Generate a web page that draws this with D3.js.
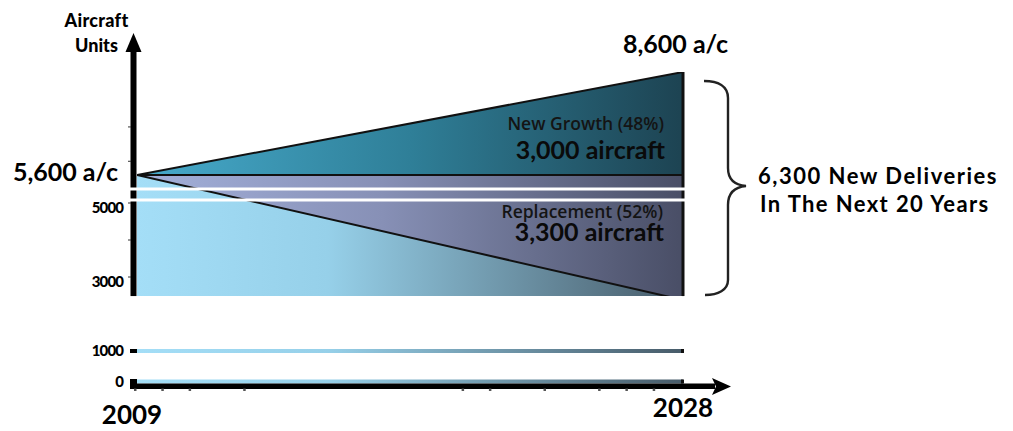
<!DOCTYPE html>
<html>
<head>
<meta charset="utf-8">
<script src="https://cdn.jsdelivr.net/npm/d3@7"></script>
<style>
  html, body { margin: 0; padding: 0; background: #fff; }
  svg { display: block; font-family: Lato, "Open Sans", sans-serif; }
</style>
</head>
<body>
<svg id="chart" width="1013" height="431"></svg>
<script>
// Fleet outlook, 2009 -> 2028
const years = [2009, 2028];
const totalFleet = [5600, 8600];      // fleet size incl. new growth
const retainedFleet = [5600, 2300];   // today's aircraft still flying
const baseFleet = 5600;
const segmentNames = ["New Growth (48%)", "Replacement (52%)"];
const segmentUnits = ["3,000 aircraft", "3,300 aircraft"];
const endLabels = ["5,600 a/c", "8,600 a/c"];
const yTickValues = [0, 1000, 3000, 5000];
const yTickLabels = ["0", "1000", "3000", "5000"];
const yMinorTicks = [3000, 4000, 5000, 6000, 7000];
const stripValues = [1000, 0];
const xDotSteps = [0, 1, 2, 4, 12, 13, 15, 17, 18, 19];
const braceText = ["6,300 New Deliveries", "In The Next 20 Years"];
const axisTitle = ["Aircraft", "Units"];

const svg = d3.select("#chart");
const defs = svg.append("defs");

// broken vertical scale: upper panel plus two thin slices near the floor
const x = d3.scaleLinear().domain(years).range([137, 683]);
const y = d3.scaleLinear()
  .domain([0, 1000, 2300, 3000, 5000, 5600, 8600])
  .range([381.5, 351, 300, 277, 203, 175, 72]);
const upperFloor = 2420;               // where the upper panel is cut off
const dotX = d3.scaleLinear().domain([0, 20]).range([135, 681]);

function grad(id, stops) {
  const g = defs.append("linearGradient").attr("id", id)
    .attr("gradientUnits", "userSpaceOnUse")
    .attr("x1", x(years[0])).attr("x2", x(years[1])).attr("y1", 0).attr("y2", 0);
  stops.forEach(([o, c]) => g.append("stop").attr("offset", o).attr("stop-color", c));
}
grad("gExisting", [[0, "#a4def7"], [0.35, "#96d0e9"], [1, "#475b69"]]);
grad("gReplace", [[0, "#a3b0da"], [0.45, "#8790b6"], [1, "#494e66"]]);
grad("gGrowth", [[0, "#47abcc"], [0.5, "#2f7f98"], [1, "#1d4352"]]);

defs.append("clipPath").attr("id", "panel").append("rect")
  .attr("x", x(years[0])).attr("y", y(totalFleet[1]))
  .attr("width", x(years[1]) - x(years[0]))
  .attr("height", y(upperFloor) - y(totalFleet[1]));

const rows = years.map((yr, i) => ({ yr, total: totalFleet[i], kept: retainedFleet[i] }));

const panel = svg.append("g").attr("clip-path", "url(#panel)");

panel.append("path").datum(rows)
  .attr("fill", "url(#gExisting)")
  .attr("d", d3.area().x(d => x(d.yr)).y0(y(d3.min(retainedFleet))).y1(d => y(d.kept)));
panel.append("path").datum(rows)
  .attr("fill", "url(#gReplace)")
  .attr("d", d3.area().x(d => x(d.yr)).y0(d => y(d.kept)).y1(y(baseFleet)));
panel.append("path").datum(rows)
  .attr("fill", "url(#gGrowth)")
  .attr("d", d3.area().x(d => x(d.yr)).y0(y(baseFleet)).y1(d => y(d.total)));

// outlines
const line = d3.line().x(d => x(d[0])).y(d => y(d[1]));
panel.append("path").datum(rows.map(d => [d.yr, d.kept]))
  .attr("d", line).attr("fill", "none").attr("stroke", "#111").attr("stroke-width", 2);
panel.append("path").datum(rows.map(d => [d.yr, baseFleet]))
  .attr("d", line).attr("fill", "none").attr("stroke", "#111").attr("stroke-width", 2);
panel.append("path").datum(rows.map(d => [d.yr, d.total]))
  .attr("d", line).attr("fill", "none").attr("stroke", "#111").attr("stroke-width", 2);
svg.append("line")
  .attr("x1", x(years[1])).attr("x2", x(years[1]))
  .attr("y1", y(totalFleet[1])).attr("y2", y(upperFloor))
  .attr("stroke", "#111").attr("stroke-width", 3);

// thin slices of the fleet near the floor
stripValues.forEach(v => {
  svg.append("rect").attr("x", x(years[0])).attr("width", x(years[1]) - x(years[0]))
    .attr("y", y(v) - 2).attr("height", 4).attr("fill", "url(#gExisting)");
  svg.append("rect").attr("x", x(years[1]) - 2).attr("width", 3)
    .attr("y", y(v) - 2).attr("height", 4).attr("fill", "#111");
  svg.append("rect").attr("x", 130).attr("width", 7)
    .attr("y", y(v) - 2).attr("height", 4).attr("fill", "#000");
});

// vertical axis with arrow
svg.append("rect").attr("x", 130.5).attr("width", 6)
  .attr("y", 48).attr("height", y(upperFloor) - 48).attr("fill", "#000");
svg.append("path").attr("d", "M133.5,33 L125.5,52 L141.5,52 Z").attr("fill", "#000");
svg.selectAll(".minor").data(yMinorTicks).join("line")
  .attr("x1", 128).attr("x2", 131).attr("y1", d => y(d)).attr("y2", d => y(d))
  .attr("stroke", "#333").attr("stroke-width", 1);

// horizontal axis with arrow
svg.append("rect").attr("x", 130).attr("y", 379).attr("width", 7).attr("height", 10).attr("fill", "#000");
svg.append("rect").attr("x", 130).attr("y", 383.5).attr("width", 585).attr("height", 5.5).attr("fill", "#000");
svg.append("path").attr("d", "M731,386.5 L712,378 L716,386.5 L712,395 Z").attr("fill", "#000");
svg.selectAll(".dot").data(xDotSteps).join("rect")
  .attr("x", d => dotX(d) - 1).attr("y", 388.5).attr("width", 2.5).attr("height", 2.5)
  .attr("fill", "#555");

// break marks across the upper panel
[189, 200].forEach(py => {
  svg.append("line").attr("x1", 129).attr("x2", 688).attr("y1", py).attr("y2", py)
    .attr("stroke", "#fff").attr("stroke-width", 3);
});

// tick labels
svg.selectAll(".tick").data(yTickValues).join("text")
  .attr("x", 123).attr("y", d => y(d) + (d >= 3000 ? 4.5 : 0))
  .attr("dy", "0.35em").attr("text-anchor", "end")
  .attr("font-size", 15).attr("font-weight", 900).attr("letter-spacing", -0.9)
  .text((d, i) => yTickLabels[i]);

// axis title
svg.append("text").attr("x", 96.5).attr("y", 27).attr("text-anchor", "middle")
  .attr("font-size", 18).attr("font-weight", 900).attr("letter-spacing", 0.3).text(axisTitle[0]);
svg.append("text").attr("x", 96.5).attr("y", 52).attr("text-anchor", "middle")
  .attr("font-size", 18).attr("font-weight", 900).text(axisTitle[1]);

// fleet sizes at both ends
svg.append("text").attr("x", 118).attr("y", 181).attr("text-anchor", "end")
  .attr("font-size", 25).attr("font-weight", 700).text(endLabels[0]);
svg.append("text").attr("x", 623).attr("y", 53).attr("text-anchor", "start")
  .attr("font-size", 25).attr("font-weight", 700).text(endLabels[1]);

// segment labels
const nameFont = { family: "'Open Sans', Lato, sans-serif", size: 17.5, weight: 600 };
svg.append("text").attr("x", 664).attr("y", 130).attr("text-anchor", "end")
  .attr("font-family", nameFont.family).attr("font-size", nameFont.size)
  .attr("font-weight", nameFont.weight).attr("fill", "#141414").text(segmentNames[0]);
svg.append("text").attr("x", 665).attr("y", 159).attr("text-anchor", "end")
  .attr("font-size", 25).attr("font-weight", 700).attr("fill", "#0a0a0a").text(segmentUnits[0]);
svg.append("text").attr("x", 663).attr("y", 218).attr("text-anchor", "end")
  .attr("font-family", nameFont.family).attr("font-size", nameFont.size)
  .attr("font-weight", nameFont.weight).attr("fill", "#141414").text(segmentNames[1]);
svg.append("text").attr("x", 664).attr("y", 241).attr("text-anchor", "end")
  .attr("font-size", 25).attr("font-weight", 700).attr("fill", "#0a0a0a").text(segmentUnits[1]);

// year labels
svg.append("text").attr("x", 132).attr("y", 424).attr("text-anchor", "middle")
  .attr("font-size", 26).attr("font-weight", 700).text(years[0]);
svg.append("text").attr("x", x(years[1])).attr("y", 417).attr("text-anchor", "middle")
  .attr("font-size", 26).attr("font-weight", 700).text(years[1]);

// brace grouping the new deliveries
svg.append("path")
  .attr("d", "M704,81 C718,81 728,86 728,98 L728,168 C728,180 735,185 746,186 " +
             "C735,187 728,193 728,205 L728,280 C728,290 718,295 705,295")
  .attr("fill", "none").attr("stroke", "#222").attr("stroke-width", 2.4);
svg.append("text").attr("x", 758).attr("y", 184)
  .attr("font-size", 22).attr("font-weight", 700).attr("letter-spacing", 1.5).text(braceText[0]);
svg.append("text").attr("x", 760).attr("y", 212)
  .attr("font-size", 22).attr("font-weight", 700).attr("letter-spacing", 1.4).text(braceText[1]);
</script>
</body>
</html>
